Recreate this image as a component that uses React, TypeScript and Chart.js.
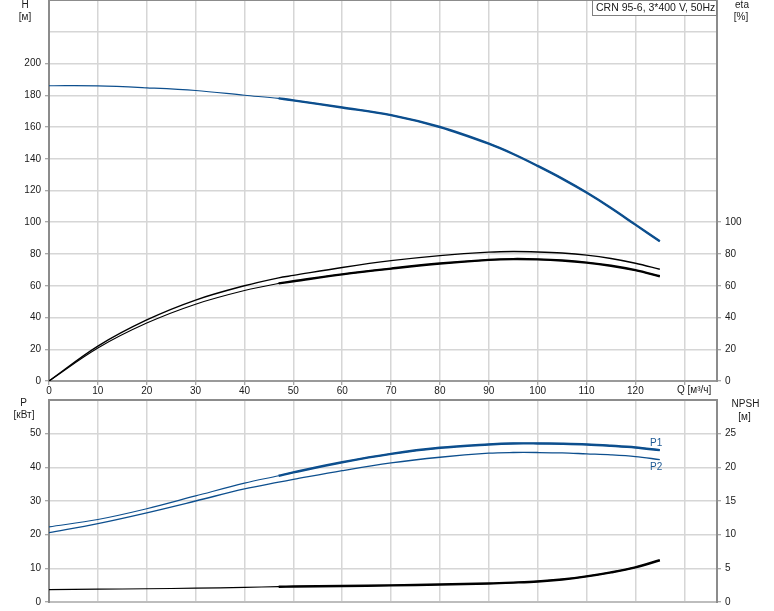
import React, { useEffect, useRef } from 'react';
import { Chart, registerables } from 'chart.js';

Chart.register(...registerables);

// ---- data ----
const Q_VALUES = [0, 10, 20, 30, 40, 47, 50, 60, 70, 80, 90, 95, 100, 105, 110, 115, 120, 125];
const H_VALUES = [186, 185.9, 184.7, 183, 180, 178, 176.8, 172.3, 167.5, 160, 149.5, 143, 135.5, 127.5, 118.7, 109, 98.5, 88];
const ETA_P_VALUES = [0, 22, 38.5, 51, 60, 65, 66.5, 71.5, 75.8, 79, 81.2, 81.6, 81.3, 80.6, 79.3, 77.2, 74.2, 70.4];
const ETA_VALUES = [0, 20.8, 36.5, 48.4, 57, 61.5, 62.8, 67.2, 70.8, 74, 76.3, 76.8, 76.6, 75.9, 74.6, 72.6, 69.8, 66];
const P1_VALUES = [22.3, 24.5, 27.7, 31.5, 35.3, 37.5, 38.5, 41.5, 44, 45.8, 46.8, 47.1, 47.1, 47, 46.8, 46.4, 45.9, 45.1];
const P2_VALUES = [20.6, 23.3, 26.5, 30, 33.6, 35.6, 36.4, 39, 41.3, 43, 44.2, 44.4, 44.4, 44.3, 44, 43.7, 43.2, 42.3];
const NPSH_VALUES = [1.85, 1.9, 1.97, 2.05, 2.18, 2.27, 2.3, 2.38, 2.47, 2.6, 2.75, 2.88, 3.05, 3.35, 3.8, 4.4, 5.15, 6.2];
const OPERATING_FROM_Q = 47;

const Q_MAX = 136.7;
const Q_STEP = 10;
const Q_LABEL_AT = 130;
const H_MAX = 240;
const H_LABEL_MAX = 200;
const ETA_LABEL_MAX = 100;
const HE_STEP = 20;
const P_MAX = 60;
const P_LABEL_MAX = 50;
const P_STEP = 10;
const NPSH_MAX = 30;
const NPSH_LABEL_MAX = 25;
const NPSH_STEP = 5;

const TITLE = 'CRN 95-6, 3*400 V, 50Hz';
const Q_TITLE = 'Q [м³/ч]';

// ---- styles ----
const FONT = '"Liberation Sans", Arial, sans-serif';
const GRID = '#d6d6d6';
const AXIS = '#8c8c8c';
const TEXT = '#1a1a1a';
const BLUE = '#0d4f8e';
const BLACK = '#000000';

function pts(ys: number[], fromQ = -1) {
  return Q_VALUES.map((q, i) => ({ x: q, y: ys[i] })).filter((p) => p.x >= fromQ);
}

function line(data: any[], color: string, width: number, axis: string) {
  return {
    data,
    borderColor: color,
    backgroundColor: color,
    borderWidth: width,
    pointRadius: 0,
    fill: false,
    tension: 0.35,
    yAxisID: axis,
  };
}

type Note = { text: string; x: number; y: number; align?: CanvasTextAlign; color?: string; size?: number };

function notesPlugin(notes: Note[], box?: { x: number; y: number; w: number; h: number }) {
  return {
    id: 'notes',
    afterDraw(chart: any) {
      const ctx = chart.ctx as CanvasRenderingContext2D;
      ctx.save();
      if (box) {
        ctx.fillStyle = '#ffffff';
        ctx.fillRect(box.x, box.y, box.w, box.h);
        ctx.strokeStyle = '#808080';
        ctx.lineWidth = 1;
        ctx.strokeRect(box.x + 0.5, box.y + 0.5, box.w - 1, box.h - 1);
      }
      ctx.textBaseline = 'middle';
      for (const n of notes) {
        ctx.font = `${n.size ?? 10}px ${FONT}`;
        ctx.fillStyle = n.color ?? TEXT;
        ctx.textAlign = n.align ?? 'center';
        ctx.fillText(n.text, n.x, n.y);
      }
      ctx.restore();
    },
  };
}

function framePlugin(bottomColor: string) {
  return {
    id: 'frame',
    beforeDatasetsDraw(chart: any) {
      const ctx = chart.ctx as CanvasRenderingContext2D;
      const a = chart.chartArea;
      ctx.save();
      ctx.lineWidth = 2;
      ctx.strokeStyle = bottomColor;
      ctx.beginPath();
      ctx.moveTo(a.left, a.bottom);
      ctx.lineTo(a.right, a.bottom);
      ctx.stroke();
      ctx.strokeStyle = AXIS;
      ctx.beginPath();
      ctx.moveTo(a.left, a.bottom + 1);
      ctx.lineTo(a.left, a.top);
      ctx.lineTo(a.right, a.top);
      ctx.lineTo(a.right, a.bottom + 1);
      ctx.stroke();
      ctx.restore();
    },
  };
}

const tickFont = { family: FONT, size: 10 };

function fitY(width: number) {
  return (s: any) => {
    s.width = width;
    s.paddingTop = 0;
    s.paddingBottom = 0;
  };
}
function fitX(height: number) {
  return (s: any) => {
    s.height = height;
    s.paddingLeft = 0;
    s.paddingRight = 0;
  };
}

function yAxis(position: 'left' | 'right', max: number, step: number, labelMax: number, width: number, onArea: boolean) {
  return {
    type: 'linear',
    position,
    min: 0,
    max,
    afterFit: fitY(width),
    border: { display: false },
    grid: {
      drawOnChartArea: onArea,
      color: GRID,
      lineWidth: 1.5,
      tickLength: 4,
      tickWidth: 1,
      tickColor: (c: any) => (c.tick && c.tick.value <= labelMax ? AXIS : 'rgba(0,0,0,0)'),
    },
    ticks: {
      stepSize: step,
      includeBounds: false,
      autoSkip: false,
      padding: 4,
      font: tickFont,
      color: TEXT,
      callback: (v: any) => (v <= labelMax ? String(v) : ''),
    },
  };
}

function TopChart() {
  const ref = useRef<HTMLCanvasElement>(null);
  useEffect(() => {
    const chart = new Chart(ref.current as HTMLCanvasElement, {
      type: 'line',
      data: {
        datasets: [
          line(pts(H_VALUES), BLUE, 1.2, 'y'),
          line(pts(H_VALUES, OPERATING_FROM_Q), BLUE, 2.4, 'y'),
          line(pts(ETA_P_VALUES), BLACK, 1.4, 'y2'),
          line(pts(ETA_VALUES), BLACK, 1.1, 'y2'),
          line(pts(ETA_VALUES, OPERATING_FROM_Q), BLACK, 2.4, 'y2'),
        ] as any,
      },
      options: {
        animation: false,
        responsive: false,
        events: [],
        layout: { padding: 0 },
        plugins: { legend: { display: false }, tooltip: { enabled: false }, title: { display: false } },
        scales: {
          x: {
            type: 'linear',
            min: 0,
            max: Q_MAX,
            afterFit: fitX(17),
            border: { display: false },
            grid: { color: GRID, lineWidth: 1.5, tickLength: 4, tickColor: AXIS, tickWidth: 1 },
            ticks: {
              stepSize: Q_STEP,
              includeBounds: false,
              autoSkip: false,
              maxRotation: 0,
              padding: 0,
              font: tickFont,
              color: TEXT,
              callback: (v: any) => (v === Q_LABEL_AT ? '' : String(v)),
            },
          },
          y: yAxis('left', H_MAX, HE_STEP, H_LABEL_MAX, 49, true),
          y2: yAxis('right', H_MAX, HE_STEP, ETA_LABEL_MAX, 57, false),
        } as any,
      },
      plugins: [
        framePlugin('#9a9a9a'),
        notesPlugin(
          [
            { text: 'H', x: 25, y: 5.5 },
            { text: '[м]', x: 25, y: 17.5 },
            { text: 'eta', x: 742, y: 5.5 },
            { text: '[%]', x: 741, y: 17.5 },
            { text: Q_TITLE, x: 677, y: 390.5, align: 'left' },
            { text: TITLE, x: 596, y: 8, align: 'left', size: 10.5 },
          ],
          { x: 592, y: 0, w: 125, h: 16 }
        ),
      ],
    } as any);
    return () => chart.destroy();
  }, []);
  return <canvas ref={ref} width={774} height={398} style={{ display: 'block' }} />;
}

function BottomChart() {
  const ref = useRef<HTMLCanvasElement>(null);
  useEffect(() => {
    const chart = new Chart(ref.current as HTMLCanvasElement, {
      type: 'line',
      data: {
        datasets: [
          line(pts(P1_VALUES), BLUE, 1.2, 'y'),
          line(pts(P1_VALUES, OPERATING_FROM_Q), BLUE, 2.4, 'y'),
          line(pts(P2_VALUES), BLUE, 1.3, 'y'),
          line(pts(NPSH_VALUES), BLACK, 1.2, 'y2'),
          line(pts(NPSH_VALUES, OPERATING_FROM_Q), BLACK, 2.4, 'y2'),
        ] as any,
      },
      options: {
        animation: false,
        responsive: false,
        events: [],
        layout: { padding: { top: 2, left: 0, right: 0, bottom: 0 } },
        plugins: { legend: { display: false }, tooltip: { enabled: false }, title: { display: false } },
        scales: {
          x: {
            type: 'linear',
            min: 0,
            max: Q_MAX,
            afterFit: fitX(9),
            border: { display: false },
            grid: { color: GRID, lineWidth: 1.5, drawTicks: false },
            ticks: { display: false, stepSize: Q_STEP, includeBounds: false, autoSkip: false },
          },
          y: yAxis('left', P_MAX, P_STEP, P_LABEL_MAX, 49, true),
          y2: yAxis('right', NPSH_MAX, NPSH_STEP, NPSH_LABEL_MAX, 57, false),
        } as any,
      },
      plugins: [
        framePlugin('#bdbdbd'),
        notesPlugin([
          { text: 'P', x: 23.5, y: 5 },
          { text: '[кВт]', x: 24, y: 17 },
          { text: 'NPSH', x: 745.5, y: 6 },
          { text: '[м]', x: 744.5, y: 19 },
          { text: 'P1', x: 650, y: 45, align: 'left', color: '#1f5a94' },
          { text: 'P2', x: 650, y: 69, align: 'left', color: '#1f5a94' },
        ]),
      ],
    } as any);
    return () => chart.destroy();
  }, []);
  return <canvas ref={ref} width={774} height={213} style={{ display: 'block' }} />;
}

export default function App() {
  return (
    <div
      style={{
        position: 'fixed',
        left: 0,
        top: 0,
        width: 774,
        height: 611,
        background: '#ffffff',
        overflow: 'hidden',
      }}
    >
      <TopChart />
      <BottomChart />
    </div>
  );
}
